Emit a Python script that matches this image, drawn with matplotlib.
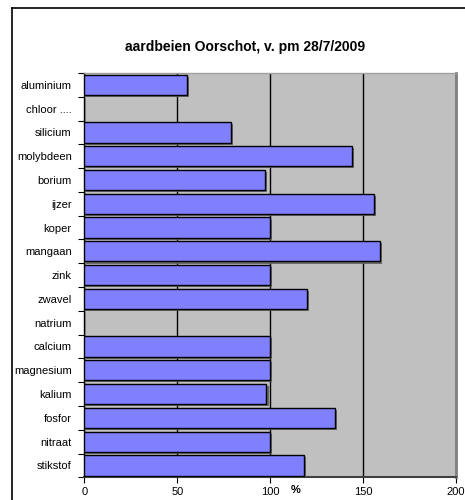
import matplotlib
matplotlib.use("Agg")
import matplotlib.pyplot as plt
import matplotlib.patheffects as pe
import numpy as np

categories = ["aluminium", "chloor ....", "silicium", "molybdeen", "borium", "ijzer",
              "koper", "mangaan", "zink", "zwavel", "natrium", "calcium",
              "magnesium", "kalium", "fosfor", "nitraat", "stikstof"]
values = [55, 0, 79, 144, 97, 156, 100, 159, 100, 120, 0, 100, 100, 98, 135, 100, 118]
xticks = [0, 50, 100, 150, 200]
title = "aardbeien Oorschot, v. pm 28/7/2009"

plt.rcParams['font.family'] = ['Liberation Sans', 'DejaVu Sans']

W, H = 465, 500
fig = plt.figure(figsize=(W/100, H/100), dpi=100)

# outer border (left/top visible)
fig.add_artist(plt.Line2D([11.5/W, 11.5/W], [0, 1-8/H], color='black', lw=1.2, transform=fig.transFigure))
fig.add_artist(plt.Line2D([11.5/W, 1.05], [1-8/H, 1-8/H], color='black', lw=1.2, transform=fig.transFigure))

x0, x1 = 84.3, 456
y0, y1 = 73, 477.3
ax = fig.add_axes([x0/W, 1-y1/H, (x1-x0)/W, (y1-y0)/H])
ax.set_facecolor('#C0C0C0')

n = len(categories)
pos = np.arange(n)
bars = ax.barh(pos, values, height=0.85, color='#8080FF',
               edgecolor='black', linewidth=1.0, zorder=3)
for b, v in zip(bars, values):
    if v > 0:
        b.set_path_effects([pe.SimplePatchShadow(offset=(1.5, -1.5), shadow_rgbFace='#606060', alpha=0.9), pe.Normal()])
    else:
        b.set_visible(False)

ax.set_xlim(0, 200)
ax.set_ylim(n - 0.5, -0.5)
ax.set_xticks(xticks)
ax.set_xticklabels([str(t) for t in xticks], fontsize=8)
ax.xaxis.grid(True, color='black', lw=1.0, zorder=1)
ax.set_axisbelow(True)
ax.tick_params(axis='x', length=4, width=0.8, pad=3, color='black')

ax.set_yticks(pos)
ax.set_yticklabels(categories, fontsize=8)
ax.tick_params(axis='y', which='major', length=0, pad=9)
ax.set_yticks(np.arange(n + 1) - 0.5, minor=True)
ax.tick_params(axis='y', which='minor', length=4, width=0.8, color='black')

ax.spines['left'].set_color('black')
ax.spines['left'].set_linewidth(1.0)
ax.spines['bottom'].set_color('#404040')
ax.spines['bottom'].set_linewidth(1.5)
ax.spines['right'].set_color('#808080')
ax.spines['right'].set_linewidth(2.0)
ax.spines['top'].set_color('#A0A0A0')
ax.spines['top'].set_linewidth(1.0)

fig.text(245/W, 1-47/H, title, ha='center', va='center', fontsize=10, fontweight='bold')
fig.text(296/W, 1-490/H, "%", ha='center', va='center', fontsize=8, fontweight='bold')

fig.savefig("out.png", dpi=100, facecolor='white')
